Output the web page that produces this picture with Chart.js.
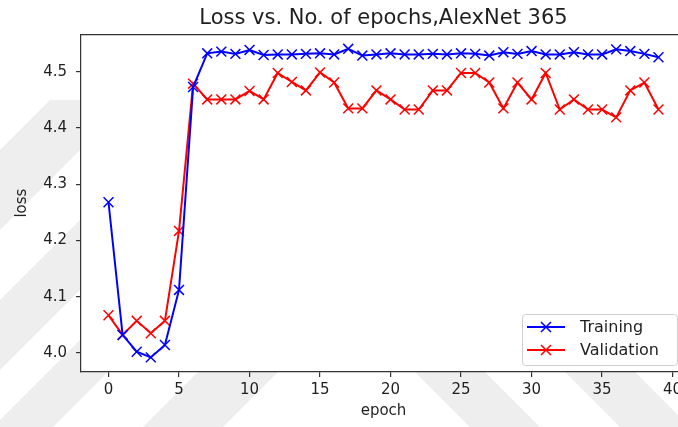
<!DOCTYPE html>
<html>
<head>
<meta charset="utf-8">
<title>Loss vs. No. of epochs</title>
<script src="https://cdn.jsdelivr.net/npm/chart.js@4.4.1/dist/chart.umd.min.js"></script>
<style>
  html, body { margin: 0; padding: 0; background: #fff; overflow: hidden; }
  #lossChart { display: block; }
</style>
</head>
<body>
<canvas id="lossChart" width="700" height="427"></canvas>
<script>
const epochs = [0, 1, 2, 3, 4, 5, 6, 7, 8, 9, 10, 11, 12, 13, 14, 15, 16, 17, 18, 19,
                20, 21, 22, 23, 24, 25, 26, 27, 28, 29, 30, 31, 32, 33, 34, 35, 36, 37, 38, 39];

const trainingLoss = [4.268, 4.032, 4.002, 3.992, 4.014, 4.112, 4.473, 4.533, 4.536, 4.532,
                      4.539, 4.530, 4.531, 4.531, 4.532, 4.533, 4.531, 4.541, 4.529, 4.531,
                      4.533, 4.531, 4.531, 4.532, 4.531, 4.533, 4.532, 4.529, 4.535, 4.532,
                      4.537, 4.531, 4.531, 4.535, 4.531, 4.531, 4.540, 4.537, 4.532, 4.526];

const validationLoss = [4.067, 4.032, 4.057, 4.035, 4.057, 4.217, 4.479, 4.451, 4.451, 4.451,
                        4.466, 4.451, 4.498, 4.482, 4.467, 4.499, 4.481, 4.435, 4.435, 4.467,
                        4.451, 4.433, 4.433, 4.467, 4.467, 4.498, 4.498, 4.481, 4.435, 4.481,
                        4.451, 4.498, 4.433, 4.451, 4.433, 4.433, 4.419, 4.467, 4.481, 4.433];

const xTicks = [0, 5, 10, 15, 20, 25, 30, 35, 40];
const yTicks = [4.0, 4.1, 4.2, 4.3, 4.4, 4.5];
const xLimits = [-1.95, 40.95];
const yLimits = [3.966, 4.567];

const textColor = '#1f1f1f';
const spineColor = '#333333';

Chart.defaults.font.family = '"DejaVu Sans", sans-serif';
Chart.defaults.color = textColor;

// faint grey diagonal bands behind the figure margins
const watermark = {
    id: 'watermark',
    beforeDraw(chart) {
        const { ctx, width, height, chartArea } = chart;
        ctx.save();
        ctx.fillStyle = '#ffffff';
        ctx.fillRect(0, 0, width, height);
        ctx.beginPath();
        ctx.rect(0, 100, width, height - 100);
        ctx.clip();
        ctx.fillStyle = '#eeeeee';
        [[150, 230], [300, 370], [420, 480], [570, 650]].forEach(([a, b]) => {
            ctx.beginPath();
            ctx.moveTo(a, 0); ctx.lineTo(b, 0);
            ctx.lineTo(b - height, height); ctx.lineTo(a - height, height);
            ctx.fill();
        });
        [[43, 113], [193, 263]].forEach(([a, b]) => {
            ctx.beginPath();
            ctx.moveTo(a, 0); ctx.lineTo(b, 0);
            ctx.lineTo(b + height, height); ctx.lineTo(a + height, height);
            ctx.fill();
        });
        ctx.restore();
        ctx.fillStyle = '#ffffff';
        ctx.fillRect(chartArea.left, chartArea.top, chartArea.width, chartArea.height);
    }
};

// boxed legend in the lower right corner of the axes
const lossLegend = {
    id: 'lossLegend',
    afterDatasetsDraw(chart) {
        const { ctx, chartArea } = chart;
        const w = 155, h = 51;
        const x0 = chartArea.right - 9 - w;
        const y0 = chartArea.bottom - 7 - h;
        ctx.save();
        ctx.beginPath();
        if (ctx.roundRect) ctx.roundRect(x0 + 0.5, y0 + 0.5, w, h, 3);
        else ctx.rect(x0 + 0.5, y0 + 0.5, w, h);
        ctx.fillStyle = 'rgba(255,255,255,0.8)';
        ctx.fill();
        ctx.strokeStyle = '#d0d0d0';
        ctx.lineWidth = 1;
        ctx.stroke();

        chart.data.datasets.forEach((ds, i) => {
            const y = y0 + 13 + i * 23;
            ctx.strokeStyle = ds.borderColor;
            ctx.lineWidth = 2;
            ctx.beginPath();
            ctx.moveTo(x0 + 5, y);
            ctx.lineTo(x0 + 43, y);
            ctx.stroke();
            const cx = x0 + 24, r = 5;
            ctx.lineWidth = 1.5;
            ctx.beginPath();
            ctx.moveTo(cx - r, y - r); ctx.lineTo(cx + r, y + r);
            ctx.moveTo(cx - r, y + r); ctx.lineTo(cx + r, y - r);
            ctx.stroke();
            ctx.fillStyle = textColor;
            ctx.font = '16px "DejaVu Sans", sans-serif';
            ctx.textBaseline = 'middle';
            ctx.textAlign = 'left';
            ctx.fillText(ds.label, x0 + 58, y + 1);
        });
        ctx.restore();
    }
};

function points(values) {
    return epochs.map((e, i) => ({ x: e, y: values[i] }));
}

function seriesStyle(color) {
    return {
        borderColor: color,
        backgroundColor: color,
        pointBorderColor: color,
        borderWidth: 2,
        pointStyle: 'crossRot',
        pointRadius: 7,
        pointHoverRadius: 7,
        pointBorderWidth: 1.5,
        tension: 0,
        fill: false
    };
}

const tickMarks = {
    drawOnChartArea: false,
    drawTicks: true,
    tickLength: 5,
    color: spineColor,
    lineWidth: 1.2
};
const spine = { color: spineColor, width: 1.2 };

new Chart(document.getElementById('lossChart').getContext('2d'), {
    type: 'line',
    data: {
        datasets: [
            Object.assign({ label: 'Training', data: points(trainingLoss) }, seriesStyle('#0000ff')),
            Object.assign({ label: 'Validation', data: points(validationLoss) }, seriesStyle('#ff0000'))
        ]
    },
    options: {
        responsive: false,
        animation: false,
        devicePixelRatio: 1,
        layout: { padding: { left: 0, right: 14, top: 0, bottom: 0 } },
        scales: {
            x: {
                type: 'linear',
                position: 'bottom',
                min: xLimits[0],
                max: xLimits[1],
                afterBuildTicks: s => { s.ticks = xTicks.map(v => ({ value: v })); },
                afterFit: s => { s.height = 55; },
                grid: tickMarks,
                border: spine,
                ticks: {
                    autoSkip: false,
                    maxRotation: 0,
                    padding: 4,
                    font: { size: 15 },
                    callback: v => String(v)
                },
                title: {
                    display: true,
                    text: 'epoch',
                    font: { size: 15 },
                    padding: { top: 0, bottom: 7 }
                }
            },
            y: {
                type: 'linear',
                position: 'left',
                min: yLimits[0],
                max: yLimits[1],
                afterBuildTicks: s => { s.ticks = yTicks.map(v => ({ value: v })); },
                afterFit: s => { s.width = 81; },
                grid: tickMarks,
                border: spine,
                ticks: {
                    autoSkip: false,
                    padding: 9,
                    font: { size: 15 },
                    callback: v => Number(v).toFixed(1)
                },
                title: {
                    display: true,
                    text: 'loss',
                    font: { size: 15 },
                    padding: { top: 13, bottom: 0 }
                }
            },
            xTop: {
                axis: 'x',
                type: 'linear',
                position: 'top',
                min: xLimits[0],
                max: xLimits[1],
                afterFit: s => { s.height = 0; },
                grid: { display: false },
                ticks: { display: false },
                border: spine
            },
            yRight: {
                axis: 'y',
                type: 'linear',
                position: 'right',
                min: yLimits[0],
                max: yLimits[1],
                afterFit: s => { s.width = 0; },
                grid: { display: false },
                ticks: { display: false },
                border: spine
            }
        },
        plugins: {
            legend: { display: false },
            tooltip: { enabled: false },
            title: {
                display: true,
                text: 'Loss vs. No. of epochs,AlexNet 365',
                fullSize: false,
                color: textColor,
                font: { size: 21, weight: 'normal', lineHeight: 1.2 },
                padding: { top: 6, bottom: 3 }
            }
        }
    },
    plugins: [watermark, lossLegend]
});
</script>
</body>
</html>
